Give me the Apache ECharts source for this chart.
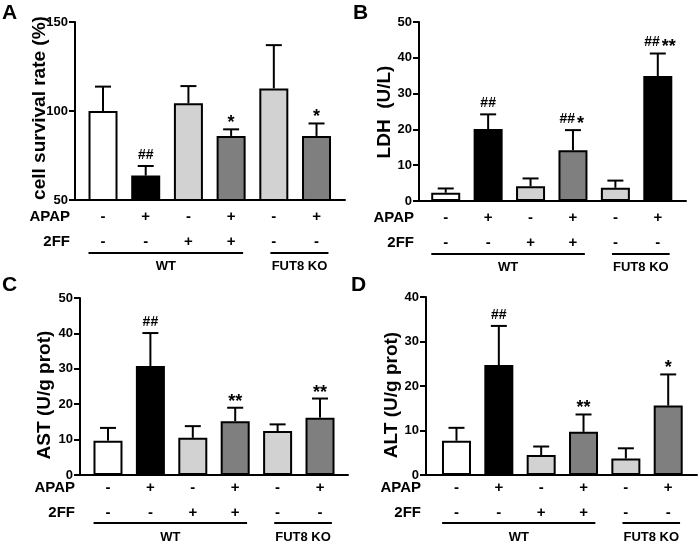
<!DOCTYPE html>
<html>
<head>
<meta charset="utf-8">
<script src="https://cdn.jsdelivr.net/npm/echarts@6/dist/echarts.min.js"></script>
<style>
html, body { margin: 0; padding: 0; background: #fff; }
#main { width: 699px; height: 547px; }
</style>
</head>
<body>
<div id="main"></div>
<script>
// treatment rows under every panel
var apapRow = ['-', '+', '-', '+', '-', '+'];
var ffRow = ['-', '-', '+', '+', '-', '-'];
var groupNames = ['WT', 'FUT8 KO'];
var groupFirst = [0, 4];
var groupLast = [3, 5];

// A - cell survival rate (%)
var survMean = [100, 63.7, 104.3, 86, 112.7, 86];
var survErr = [13.7, 5.4, 9.7, 3.7, 24.3, 7];
var survMarks = ['', '##', '', '*', '', '*'];

// B - LDH (U/L)
var ldhMean = [2.3, 20.1, 4.1, 14.2, 3.7, 34.9];
var ldhErr = [1.2, 4.1, 2.2, 5.6, 2.0, 6.3];
var ldhMarks = ['', '##', '', '##*', '', '##**'];

// C - AST (U/g prot)
var astMean = [9.7, 30.8, 10.5, 15.2, 12.4, 16.2];
var astErr = [3.6, 9.3, 3.3, 3.8, 1.9, 5.4];
var astMarks = ['', '##', '', '**', '', '**'];

// D - ALT (U/g prot)
var altMean = [7.7, 24.7, 4.5, 9.7, 3.7, 15.6];
var altErr = [2.9, 8.8, 1.9, 3.9, 2.3, 7.0];
var altMarks = ['', '##', '', '**', '', '*'];

var WHITE = '#ffffff', BLACK = '#000000', LIGHT = '#d2d2d2', DARK = '#7f7f7f';
var fillMost = [WHITE, BLACK, LIGHT, DARK, LIGHT, DARK];
var fillLdh = [WHITE, BLACK, LIGHT, DARK, LIGHT, BLACK];

var FONT = '"Liberation Sans", Arial, sans-serif';

var panels = [
    { letter: 'A', title: 'cell survival rate (%)', mean: survMean, err: survErr, marks: survMarks, fill: fillMost,
      grid: { left: 75, top: 22, width: 270, height: 178 }, xMin: -0.656, xMax: 5.667,
      yMin: 50, yMax: 150, step: 50, letterAt: [2, 3], titleAt: [40, 108], rows: [17, 42, 53, 66] },
    { letter: 'B', title: 'LDH  (U/L)', mean: ldhMean, err: ldhErr, marks: ldhMarks, fill: fillLdh,
      grid: { left: 419, top: 22, width: 267, height: 179 }, xMin: -0.63, xMax: 5.665,
      yMin: 0, yMax: 50, step: 10, letterAt: [353, 3], titleAt: [385, 112], rows: [17, 42, 53, 66] },
    { letter: 'C', title: 'AST (U/g prot)', mean: astMean, err: astErr, marks: astMarks, fill: fillMost,
      grid: { left: 80, top: 298, width: 268, height: 177 }, xMin: -0.66, xMax: 5.66,
      yMin: 0, yMax: 50, step: 10, letterAt: [2, 275], titleAt: [45, 395], rows: [13, 38, 48, 62] },
    { letter: 'D', title: 'ALT (U/g prot)', mean: altMean, err: altErr, marks: altMarks, fill: fillMost,
      grid: { left: 426, top: 297, width: 271, height: 178 }, xMin: -0.72, xMax: 5.68,
      yMin: 0, yMax: 40, step: 10, letterAt: [351, 275], titleAt: [392, 395], rows: [13, 38, 48, 62] }
];

var chart = echarts.init(document.getElementById('main'));
var option = { animation: false, grid: [], xAxis: [], yAxis: [], series: [] };

panels.forEach(function (p, k) {
    option.grid.push(p.grid);
    option.xAxis.push({
        type: 'value', gridIndex: k, min: p.xMin, max: p.xMax,
        axisLine: { show: true, onZero: false, lineStyle: { color: '#000', width: 2 } },
        axisTick: { show: false }, axisLabel: { show: false }, splitLine: { show: false }
    });
    option.yAxis.push({
        type: 'value', gridIndex: k, min: p.yMin, max: p.yMax, interval: p.step,
        axisLine: { show: true, onZero: false, lineStyle: { color: '#000', width: 2 } },
        axisTick: { show: true, length: 6, lineStyle: { color: '#000', width: 2 } },
        axisLabel: { margin: 7, color: '#000', fontWeight: 'bold', fontSize: 13, fontFamily: FONT },
        splitLine: { show: false }
    });
    option.series.push({
        type: 'bar', xAxisIndex: k, yAxisIndex: k, barWidth: 29,
        data: p.mean.map(function (v, i) {
            return { value: [i, v], itemStyle: { color: p.fill[i] } };
        }),
        itemStyle: { borderColor: '#000', borderWidth: 2 }
    });
    option.series.push({
        type: 'custom', xAxisIndex: k, yAxisIndex: k, clip: false, z: 5,
        data: p.mean.map(function (v, i) { return [i, v, p.err[i]]; }),
        encode: { x: 0, y: 1 },
        renderItem: function (params, api) {
            var x = api.value(0), m = api.value(1), e = api.value(2);
            var top = api.coord([x, m]);
            var tip = api.coord([x, m + e]);
            var kids = [
                { type: 'line', shape: { x1: top[0], y1: top[1], x2: tip[0], y2: tip[1] },
                  style: { stroke: '#000', lineWidth: 2 } },
                { type: 'line', shape: { x1: tip[0] - 8, y1: tip[1], x2: tip[0] + 8, y2: tip[1] },
                  style: { stroke: '#000', lineWidth: 2 } }
            ];
            var mark = p.marks[params.dataIndex];
            var hashes = mark.replace(/\*/g, '');
            var stars = mark.replace(/#/g, '');
            var both = hashes && stars;
            if (hashes) {
                kids.push({ type: 'text', x: both ? tip[0] + 2 : tip[0], y: tip[1] - 11,
                    style: { text: hashes, font: 'bold 14px ' + FONT, fill: '#000',
                             align: both ? 'right' : 'center', verticalAlign: 'middle' } });
            }
            if (stars) {
                kids.push({ type: 'text', x: both ? tip[0] + 4 : tip[0], y: tip[1] - 6,
                    style: { text: stars, font: 'bold 18px ' + FONT, fill: '#000',
                             align: both ? 'left' : 'center', verticalAlign: 'middle' } });
            }
            return { type: 'group', children: kids };
        }
    });
});

chart.setOption(option);

// letters, axis titles and the treatment table below each axis
var gfx = [];
panels.forEach(function (p, k) {
    var px = function (x, y) { return chart.convertToPixel({ gridIndex: k }, [x, y]); };
    var base = px(0, p.yMin)[1];
    gfx.push({ type: 'text', x: p.letterAt[0], y: p.letterAt[1],
        style: { text: p.letter, font: 'bold 21px ' + FONT, fill: '#000', align: 'left', verticalAlign: 'top' } });
    gfx.push({ type: 'text', x: p.titleAt[0], y: p.titleAt[1], rotation: Math.PI / 2,
        style: { text: p.title, font: 'bold 19px ' + FONT, fill: '#000', align: 'center', verticalAlign: 'middle' } });
    gfx.push({ type: 'text', x: p.grid.left - 5, y: base + p.rows[0],
        style: { text: 'APAP', font: 'bold 15px ' + FONT, fill: '#000', align: 'right', verticalAlign: 'middle' } });
    gfx.push({ type: 'text', x: p.grid.left - 5, y: base + p.rows[1],
        style: { text: '2FF', font: 'bold 15px ' + FONT, fill: '#000', align: 'right', verticalAlign: 'middle' } });
    apapRow.forEach(function (s, i) {
        gfx.push({ type: 'text', x: px(i, p.yMin)[0], y: base + p.rows[0],
            style: { text: s, font: 'bold 15px ' + FONT, fill: '#000', align: 'center', verticalAlign: 'middle' } });
    });
    ffRow.forEach(function (s, i) {
        gfx.push({ type: 'text', x: px(i, p.yMin)[0], y: base + p.rows[1],
            style: { text: s, font: 'bold 15px ' + FONT, fill: '#000', align: 'center', verticalAlign: 'middle' } });
    });
    groupNames.forEach(function (name, j) {
        var x1 = px(groupFirst[j] - (j === 0 ? 0.34 : 0.08), p.yMin)[0];
        var x2 = px(groupLast[j] + 0.28, p.yMin)[0];
        gfx.push({ type: 'line', shape: { x1: x1, y1: base + p.rows[2], x2: x2, y2: base + p.rows[2] },
            style: { stroke: '#000', lineWidth: 2 } });
        gfx.push({ type: 'text', x: (x1 + x2) / 2, y: base + p.rows[3],
            style: { text: name, font: 'bold 13px ' + FONT, fill: '#000', align: 'center', verticalAlign: 'middle' } });
    });
});
chart.setOption({ graphic: gfx });
</script>
</body>
</html>
